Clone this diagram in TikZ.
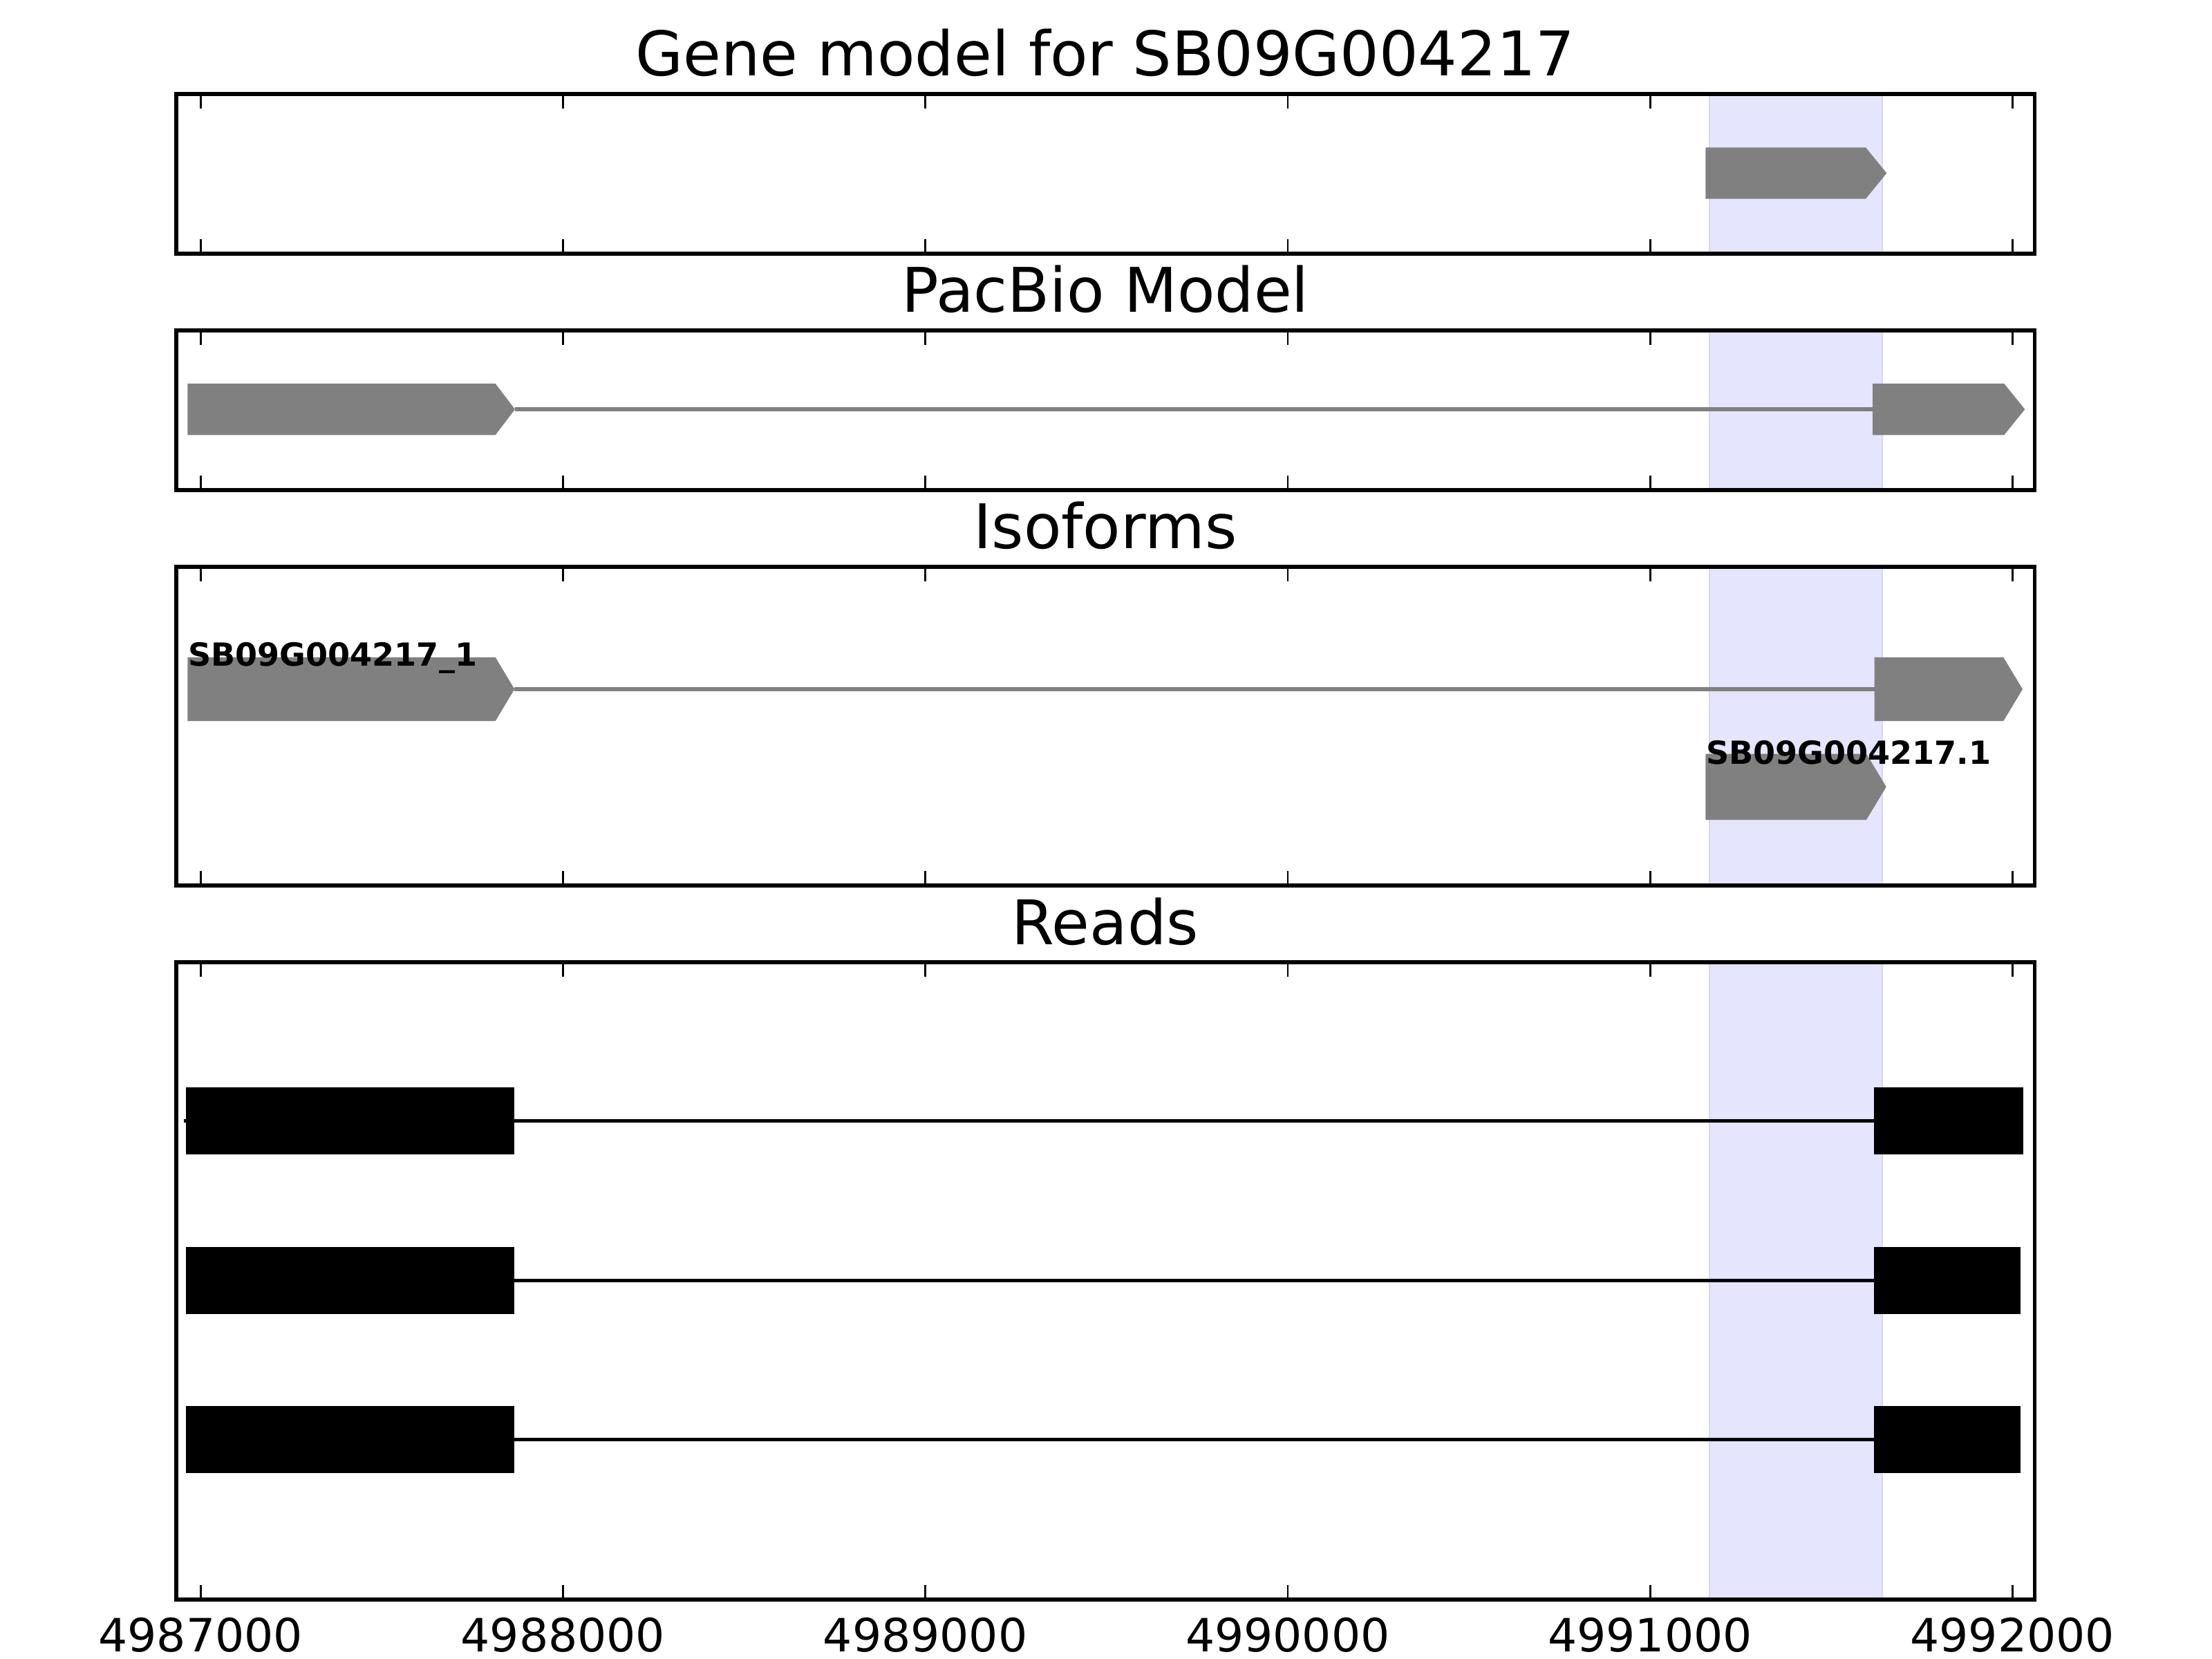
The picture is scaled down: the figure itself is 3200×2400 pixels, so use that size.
\documentclass[tikz,border=0pt]{standalone}
\usepackage{fontspec}
\setmainfont{DejaVu Sans}
\definecolor{bandfill}{RGB}{229,229,254}
\definecolor{bandedge}{RGB}{214,214,244}
\definecolor{genegray}{RGB}{128,128,128}
\newcommand\garrow[5]{%
  \fill[genearrow] (#1,#4) -- (#2,#4) -- (#3,{(#4+#5)/2}) -- (#2,#5) -- (#1,#5) -- cycle;}
\begin{document}
\begin{tikzpicture}[x=0.0025in,y=-0.0025in,
  frame/.style={line width=1pt,draw=black},
  tickmark/.style={line width=0.5pt,draw=black},
  band/.style={fill=bandfill,draw=bandedge,line width=0.4pt},
  genearrow/.style={fill=genegray,draw=none},
  intron/.style={draw=genegray,line width=1pt},
  readexon/.style={fill=black,draw=none},
  readline/.style={draw=black,line width=0.9pt},
  ttl/.style={anchor=base,inner sep=0pt,font=\fontsize{16.1}{19}\selectfont},
  ticklab/.style={anchor=base,inner sep=0pt,font=\fontsize{12}{14}\selectfont},
  isolab/.style={anchor=base west,inner sep=0pt,font=\fontsize{8.33}{10}\selectfont\bfseries}]
\useasboundingbox[fill=white] (0,0) rectangle (3200,2400);
% highlight band
\foreach \t/\b in {136/367,478/709,820/1281,1392/2314}
  \filldraw[band] (2473,\t) rectangle (2723,\b);
% panel 1: gene model
\garrow{2467.3}{2699}{2729.3}{213.3}{287.7}
% panel 2: PacBio model
\draw[intron] (745,592.2) -- (2709,592.2);
\garrow{271.3}{716.7}{745}{555}{629.3}
\garrow{2709}{2899.3}{2929.3}{555}{629.3}
% panel 3: isoforms
\draw[intron] (744,997) -- (2711.7,997);
\garrow{271.4}{716.8}{744.3}{951}{1043}
\garrow{2711.7}{2898.3}{2926}{951}{1043}
\garrow{2467.3}{2700}{2728.7}{1090.5}{1186}
\node[isolab] (lab1) at (271.4,963.5) {SB09G004217\_1};
\node[isolab] (lab2) at (2467.3,1105) {SB09G004217.1};
% panel 4: reads
\draw[readline] (266,1621.7) -- (2711.3,1621.7);
\draw[readline] (743.6,1852.2) -- (2711.3,1852.2);
\draw[readline] (743.6,2082.7) -- (2711.3,2082.7);
\fill[readexon] (269.4,1573.2) rectangle (743.6,1670.2);
\fill[readexon] (2711.3,1573.2) rectangle (2926.7,1670.2);
\fill[readexon] (269.4,1803.7) rectangle (743.6,1900.7);
\fill[readexon] (2711.3,1803.7) rectangle (2922.7,1900.7);
\fill[readexon] (269.4,2034.2) rectangle (743.6,2131.2);
\fill[readexon] (2711.3,2034.2) rectangle (2922.7,2131.2);
% frames and ticks
\foreach \t/\b in {136/367,478/709,820/1281,1392/2314}{
  \draw[frame] (255,\t) rectangle (2943.5,\b);
  \foreach \x in {290.3,814.5,1338.7,1862.9,2387.1,2911.3}{
    \draw[tickmark] (\x,\t) -- ++(0,20.7);
    \draw[tickmark] (\x,\b) -- ++(0,-20.7);
  }
}
% titles
\node[ttl] (t1) at (1599,110) {Gene model for SB09G004217};
\node[ttl] (t2) at (1599,452) {PacBio Model};
\node[ttl] (t3) at (1599,794) {Isoforms};
\node[ttl] (t4) at (1599,1366) {Reads};
% tick labels
\node[ticklab] (x1) at (290.3,2389) {4987000};
\node[ticklab] (x2) at (814.5,2389) {4988000};
\node[ticklab] (x3) at (1338.7,2389) {4989000};
\node[ticklab] (x4) at (1862.9,2389) {4990000};
\node[ticklab] (x5) at (2387.1,2389) {4991000};
\node[ticklab] (x6) at (2911.3,2389) {4992000};
\end{tikzpicture}
\end{document}
